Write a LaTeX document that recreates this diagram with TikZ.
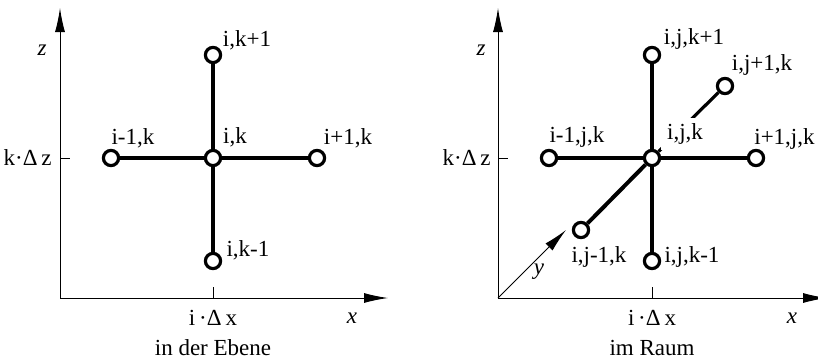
\documentclass[tikz,border=0pt]{standalone}
\usepackage{fontspec}
\setmainfont{Liberation Serif}
\usetikzlibrary{arrows.meta}

\begin{document}
\begin{tikzpicture}[
  x=0.5pt, y=-0.5pt,
  pt/.style={circle, draw, line width=1.6pt, fill=white, minimum size=7.6pt, inner sep=0pt},
  bar/.style={line width=2pt},
  axis/.style={line width=0.5pt, -{Latex[length=12pt, width=5pt]}},
  tick/.style={line width=0.5pt},
  lbl/.style={font=\fontsize{11.5}{13}\selectfont, inner sep=1pt},
  var/.style={font=\fontsize{11.5}{13}\selectfont\itshape}
]
\useasboundingbox (0,0) rectangle (818,360);

% Left: in der Ebene
\coordinate (o1) at (60,298);
\coordinate (z1) at (60,8);
\coordinate (x1) at (388,298);
\draw[axis] (o1) -- (z1);
\draw[axis] (o1) -- (x1);
\draw[tick] (60,158) -- ++(10,0);
\draw[tick] (213,298) -- ++(0,-11);

\node[pt] (c1) at (213,158) {};
\node[pt] (t1) at (213,55)  {};
\node[pt] (b1) at (213,261) {};
\node[pt] (l1) at (111,158) {};
\node[pt] (r1) at (317,158) {};
\draw[bar] (c1) -- (t1);
\draw[bar] (c1) -- (b1);
\draw[bar] (c1) -- (l1);
\draw[bar] (c1) -- (r1);

\node[lbl] at (247,40)  {i,k+1};
\node[lbl] at (133,138) {i-1,k};
\node[lbl] at (235,137) {i,k};
\node[lbl] at (348,138) {i+1,k};
\node[lbl] at (248,250) {i,k-1};
\node[var] at (42,50)   {z};
\node[lbl, anchor=east] at (54,158) {k·Δ\,z};
\node[lbl] at (213,318) {i\,·Δ\,x};
\node[var] at (352,318) {x};
\node[lbl] at (213,348) {in der Ebene};

% Right: im Raum
\coordinate (o2) at (498,298);
\coordinate (z2) at (498,8);
\coordinate (x2) at (827,298);
\coordinate (y2) at (566,230);
\draw[axis] (o2) -- (z2);
\draw[axis] (o2) -- (x2);
\draw[axis] (o2) -- (y2);
\draw[tick] (498,158) -- ++(10,0);
\draw[tick] (652,298) -- ++(0,-11);

\node[pt] (c2) at (652,158) {};
\node[pt] (t2) at (652,55)  {};
\node[pt] (b2) at (652,261) {};
\node[pt] (l2) at (549,158) {};
\node[pt] (r2) at (756,158) {};
\node[pt] (f2) at (725,86)  {};
\node[pt] (n2) at (581,230) {};
\draw[bar] (c2) -- (t2);
\draw[bar] (c2) -- (b2);
\draw[bar] (c2) -- (l2);
\draw[bar] (c2) -- (r2);
\draw[bar] (c2) -- (n2);
\draw[line width=1.6pt] (c2) -- (f2);

\node[lbl] at (694,39)  {i,j,k+1};
\node[lbl] at (762,65)  {i,j+1,k};
\node[lbl] at (577,137) {i-1,j,k};
\node[lbl, fill=white, inner sep=3pt] at (685,134) {i,j,k};
\node[lbl, anchor=east] at (817,139) {i+1,j,k};
\node[lbl] at (599,257) {i,j-1,k};
\node[lbl] at (692,257) {i,j,k-1};
\node[var] at (481,50)  {z};
\node[var] at (539,272) {y};
\node[lbl, anchor=east] at (493,158) {k·Δ\,z};
\node[lbl] at (652,318) {i\,·Δ\,x};
\node[var] at (792,318) {x};
\node[lbl] at (652,348) {im Raum};
\end{tikzpicture}
\end{document}
